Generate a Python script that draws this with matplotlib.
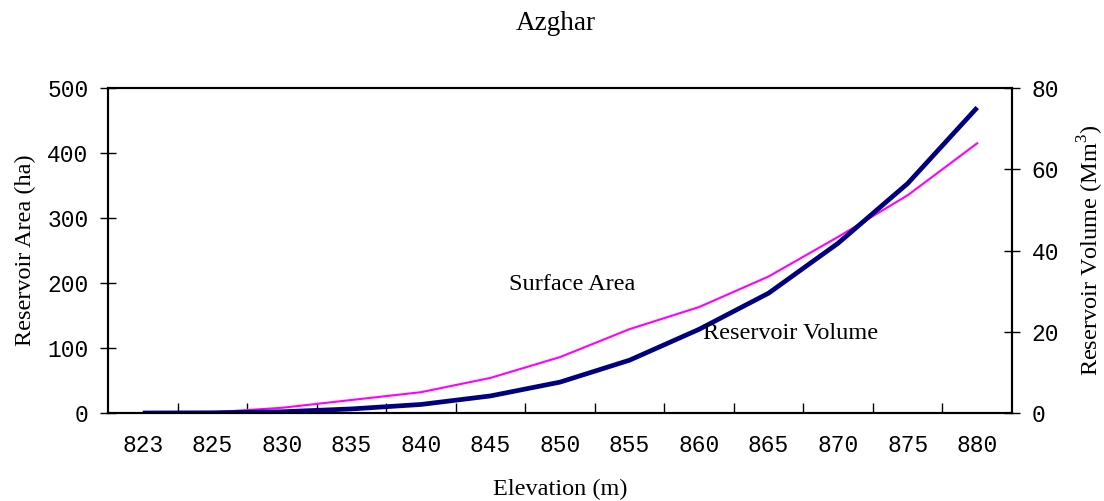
import matplotlib
matplotlib.use('Agg')

import matplotlib.pyplot as plt
import numpy as np

elevation = ["823", "825", "830", "835", "840", "845", "850", "855",
             "860", "865", "870", "875", "880"]
area_ha = [0, 1, 8, 20, 32, 54, 86, 129, 163, 210, 271, 335, 415]
volume_mm3 = [0, 0.05, 0.3, 1.0, 2.1, 4.2, 7.6, 13.0, 20.6, 29.5, 41.8, 56.5, 75.2]

serif = "Liberation Serif"
mono = "Liberation Mono"
plt.rcParams["mathtext.fontset"] = "custom"
plt.rcParams["mathtext.rm"] = serif

fig = plt.figure(figsize=(11.04, 5.01), dpi=100)
ax = fig.add_axes([108/1104, 1 - 413/501, (1012-108)/1104, (413-88)/501])
ax2 = ax.twinx()

x = np.arange(len(elevation))
ax.plot(x, area_ha, color="#ff00ff", lw=1.5, zorder=3)
ax2.plot(x, volume_mm3, color="#000080", lw=3.4, solid_capstyle="butt")

ax.set_xlim(-0.5, len(elevation) - 0.5)
ax.set_ylim(0, 500)
ax2.set_ylim(0, 80)

# category ticks between the labels, labels at the centres
ax.set_xticks(np.arange(0.5, len(elevation) - 1, 1))
ax.set_xticklabels([])
ax.tick_params(axis="x", which="major", direction="in", length=7, width=1)
ax.set_xticks(x, minor=True)
ax.set_xticklabels(elevation, minor=True, fontfamily=mono, fontsize=16.5)
ax.tick_params(axis="x", which="minor", length=0, pad=15)

ax.set_yticks(range(0, 501, 100))
ax.tick_params(axis="y", direction="inout", length=12, width=1, pad=8)
for t in ax.get_yticklabels():
    t.set_fontfamily(mono)
    t.set_fontsize(16.5)

ax2.set_yticks(range(0, 81, 20))
ax2.tick_params(axis="y", direction="inout", length=12, width=1, pad=8)
for t in ax2.get_yticklabels():
    t.set_fontfamily(mono)
    t.set_fontsize(16.5)

for a in (ax, ax2):
    for s in a.spines.values():
        s.set_linewidth(1.5)

ax.set_xlabel("Elevation (m)", fontfamily=serif, fontsize=17.5, labelpad=16)
ax.set_ylabel("Reservoir Area (ha)", fontfamily=serif, fontsize=17.5, labelpad=8)
ax2.set_ylabel("Reservoir Volume (Mm$^3$)", fontfamily=serif, fontsize=17.5,
               labelpad=12)

ax.text(5.27, 197, "Surface Area", fontfamily=serif, fontsize=17.5, va="center")
ax2.text(8.05, 19.5, "Reservoir Volume", fontfamily=serif, fontsize=17.5, va="center")

fig.text(0.503, 1 - 24/501, "Azghar", fontfamily=serif, fontsize=19.5,
         ha="center", va="center")

fig.savefig("out.png", dpi=100)
